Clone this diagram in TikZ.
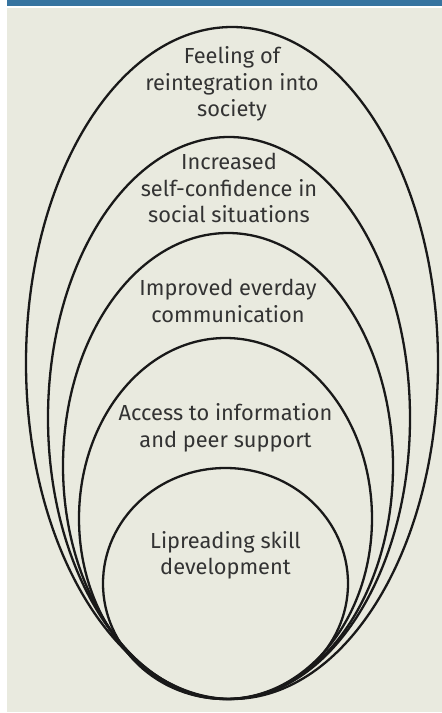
\documentclass[tikz,border=0pt]{standalone}
\usepackage{fontspec}
\setmainfont{Fira Sans}
\usetikzlibrary{shapes.geometric,positioning}
\definecolor{barblue}{RGB}{54,116,160}
\definecolor{panel}{RGB}{233,234,223}
\definecolor{inkgray}{RGB}{51,51,51}
\tikzset{
  ring/.style={draw=black!90, line width=2.3pt, ellipse, inner sep=0pt},
  txt/.style={align=center, inner sep=0pt, text=inkgray, font=\fontsize{21.8}{26.5}\selectfont}
}
\begin{document}
\begin{tikzpicture}[x=1pt,y=-1pt]
\useasboundingbox (0,0) rectangle (442,713);
\fill[panel] (7,8) rectangle (442,712);
\fill[barblue] (7,0) rectangle (442,6);

\foreach \n/\cx/\cy/\w/\h in {1/232/363/412/672, 2/229/418/362/562, 3/228/466/330/466, 4/225.5/518.5/293/361, 5/225.5/583.5/245/231}
  \node[ring, minimum width=\w pt, minimum height=\h pt] (e\n) at (\cx,\cy) {};

% base anchor sits on the last line
\node[txt, below=91pt of e1.north, anchor=base] (t1) {Feeling of\\reintegration into\\society};
\node[txt, below=87pt of e2.north, anchor=base] (t2) {Increased\\self-confidence in\\social situations};
\node[txt, below=90.5pt of e3.north, anchor=base] (t3) {Improved everday\\communication};
\node[txt, below=110.5pt of e4.north, anchor=base] (t4) {Access to information\\and peer support};
\node[txt, below=108pt of e5.north, anchor=base] (t5) {Lipreading skill\\development};
\end{tikzpicture}
\end{document}
